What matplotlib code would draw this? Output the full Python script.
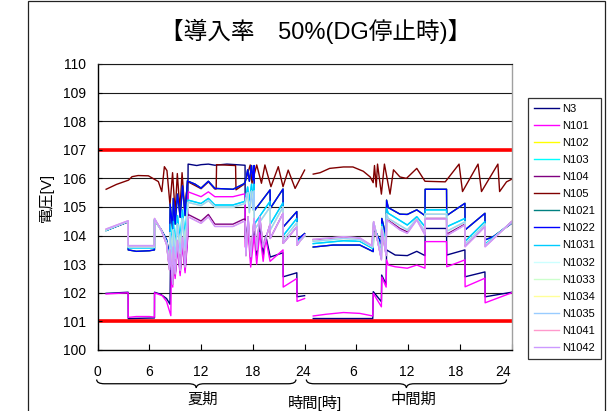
import numpy as np
import matplotlib
matplotlib.use("Agg")
import matplotlib.pyplot as plt
import matplotlib.transforms as mtransforms
from matplotlib.patches import Rectangle, PathPatch
from matplotlib.path import Path

plt.rcParams['font.family'] = ['Liberation Sans', 'Noto Sans CJK JP']

# ---------------------------------------------------------------------------
# Data: (hour, voltage) pairs. Summer runs 1..24 h, the mid season 25..48 h.
# ---------------------------------------------------------------------------
SERIES = ["N3", "N101", "N102", "N103", "N104", "N105", "N1021", "N1022",
          "N1031", "N1032", "N1033", "N1034", "N1035", "N1041", "N1042"]
COLORS = ["#000080", "#FF00FF", "#FFFF00", "#00FFFF", "#800080", "#800000",
          "#008080", "#0000FF", "#00CCFF", "#CCFFFF", "#CCFFCC", "#FFFF99",
          "#99CCFF", "#FF99CC", "#CC99FF"]

N105_SUMMER = [(1, 105.62), (2.2, 105.79), (3.6, 105.94), (4.0, 106.06), (4.7, 106.10),
               (5.9, 106.09), (7.05, 105.89), (7.45, 105.54), (7.75, 106.41), (8.05, 106.27),
               (8.4, 105.07), (8.7, 106.20), (9.0, 104.78), (9.25, 106.17), (9.55, 104.90),
               (9.8, 106.20), (10.1, 104.95), (10.45, 105.85), (10.5, 105.88), (12.0, 105.64),
               (12.85, 105.88), (13.6, 105.63), (13.75, 105.63), (13.8, 106.48), (16.0, 106.45),
               (16.05, 105.60), (17.0, 105.80), (17.3, 106.06), (17.7, 106.47), (17.9, 105.83),
               (18.45, 106.47), (19.0, 105.83), (19.4, 106.47), (20.1, 105.71), (20.95, 106.41),
               (21.5, 105.71), (22.1, 106.29), (22.9, 105.65), (24.0, 106.29)]
N105_MID = [(25, 106.15), (25.8, 106.20), (26.9, 106.35), (28.5, 106.40), (29.6, 106.40),
            (30.8, 106.25), (31.6, 106.05), (31.95, 105.85), (32.1, 106.45), (32.3, 105.70),
            (32.45, 106.50), (32.9, 105.45), (33.25, 106.50), (33.9, 105.45), (34.3, 106.30),
            (35.05, 106.05), (35.8, 106.00), (37.0, 106.35), (37.95, 105.90), (40.3, 105.88),
            (41.9, 106.50), (42.3, 105.54), (44.1, 106.50), (44.5, 105.54), (46.4, 106.50),
            (46.6, 105.54), (47.4, 105.88), (48, 105.97)]

N3_SUMMER = [(1, 101.98), (3.55, 102.02), (3.56, 101.10), (6.6, 101.12), (6.61, 102.02),
             (7.3, 101.95), (8.0, 101.80), (8.4, 101.60), (8.45, 102.90), (8.72, 102.40),
             (8.78, 103.40), (9.0, 102.60), (9.27, 103.70), (9.58, 102.70), (9.85, 103.80),
             (10.15, 102.80), (10.45, 104.00), (10.5, 106.50), (11.5, 106.45), (12.0, 106.48),
             (12.85, 106.50), (13.6, 106.46), (15.0, 106.50), (17.1, 106.46), (17.12, 103.90),
             (17.45, 104.40), (17.75, 103.20), (18.15, 104.30), (18.45, 103.30), (18.8, 104.40),
             (19.2, 103.30), (19.5, 104.00), (20.02, 103.25), (21.5, 103.40), (21.52, 102.56),
             (23.1, 102.70), (23.12, 101.86), (24, 101.90)]
N3_MID = [(25, 101.10), (31.9, 101.10), (31.96, 102.04), (32.9, 101.69), (32.93, 102.62),
          (33.45, 102.30), (33.5, 103.50), (34.5, 103.32), (35.9, 103.30), (37.0, 103.45),
          (37.95, 103.30), (37.97, 104.25), (40.45, 104.25), (40.47, 103.32), (42.58, 103.50),
          (42.6, 102.56), (44.9, 102.73), (44.92, 101.86), (48, 102.02)]

N101_SUMMER = [(1, 101.96), (3.55, 102.00), (3.56, 101.14), (4.5, 101.17), (6.0, 101.17),
               (6.6, 101.15), (6.61, 102.00), (7.5, 101.90), (8.0, 101.70), (8.5, 101.20),
               (8.55, 102.80), (8.72, 102.20), (8.78, 103.30), (9.0, 102.50), (9.27, 103.60),
               (9.58, 102.60), (9.85, 103.70), (10.15, 102.70), (10.45, 103.90), (10.5, 105.53),
               (12.0, 105.36), (12.85, 105.53), (13.6, 105.36), (15.7, 105.36), (16.9, 105.45),
               (17.1, 105.45), (17.12, 103.60), (17.45, 104.20), (17.75, 102.90), (18.15, 104.00),
               (18.45, 103.00), (18.8, 104.10), (19.2, 103.10), (19.5, 103.90), (20.0, 103.10),
               (21.5, 103.50), (21.52, 102.20), (23.1, 102.50), (23.12, 101.70), (24, 101.80)]
N101_MID = [(25, 101.19), (26.5, 101.25), (28.5, 101.31), (30.4, 101.28), (31.9, 101.19),
            (31.96, 101.98), (32.9, 101.51), (32.95, 102.55), (33.45, 102.20), (33.5, 103.15),
            (33.7, 102.97), (34.5, 102.91), (35.9, 102.86), (37.0, 102.97), (37.95, 102.86),
            (37.97, 103.79), (40.45, 103.79), (40.47, 102.91), (42.58, 103.15), (42.6, 102.21),
            (44.9, 102.51), (44.92, 101.65), (48, 102.00)]

BLUE_SUMMER = [(1, 104.18), (3.55, 104.48), (3.56, 103.50), (4.5, 103.45), (6.0, 103.47),
               (6.6, 103.50), (6.61, 104.55), (7.4, 104.20), (8.0, 103.86), (8.35, 103.30),
               (8.42, 105.10), (8.72, 104.20), (8.78, 105.30), (9.0, 104.40), (9.27, 105.45),
               (9.58, 104.64), (9.85, 105.74), (10.15, 104.70), (10.42, 105.92), (10.5, 105.90),
               (11.3, 105.80), (12.0, 105.66), (12.85, 105.90), (13.6, 105.65), (15.7, 105.62),
               (16.9, 105.80), (17.1, 105.85), (17.4, 106.30), (17.6, 105.90), (17.85, 106.45),
               (18.0, 105.95), (18.15, 106.45), (18.17, 104.87), (20.0, 105.60), (20.02, 104.95),
               (21.5, 105.63), (21.52, 104.30), (23.1, 104.84), (23.12, 103.85), (24, 104.07)]
BLUE_MID = [(25, 103.60), (27.3, 103.67), (30.4, 103.67), (31.95, 103.44), (32.0, 104.30),
            (32.9, 103.70), (32.95, 104.60), (33.45, 103.95), (33.5, 105.24), (33.7, 104.98),
            (35.05, 104.75), (35.9, 104.74), (37.0, 104.90), (37.95, 104.70), (37.97, 105.62),
            (40.45, 105.62), (40.47, 104.70), (42.58, 105.13), (42.6, 104.20), (44.9, 104.78),
            (44.92, 103.85), (45.9, 103.97), (48, 104.43)]

CYAN_SUMMER = [(1, 104.18), (3.55, 104.50), (3.56, 103.57), (6.6, 103.57), (6.61, 104.55),
               (7.4, 104.18), (8.0, 103.80), (8.35, 103.10), (8.42, 104.40), (8.72, 103.40),
               (8.78, 104.50), (9.0, 103.60), (9.27, 104.70), (9.58, 103.80), (9.85, 104.90),
               (10.15, 103.90), (10.42, 105.10), (10.5, 105.24), (12.0, 105.12), (12.85, 105.30),
               (13.6, 105.07), (15.7, 105.07), (16.9, 105.18), (17.1, 105.20), (17.4, 105.70),
               (17.6, 105.20), (17.85, 105.80), (18.0, 105.30), (18.15, 105.80), (18.17, 104.40),
               (20.0, 105.20), (20.02, 104.40), (21.5, 105.15), (21.52, 104.00), (23.1, 104.60),
               (23.12, 103.75), (24, 104.00)]
CYAN_MID = [(25, 103.72), (28.5, 103.82), (30.4, 103.80), (31.9, 103.55), (32.0, 104.45),
            (32.9, 103.40), (32.95, 104.40), (33.45, 103.60), (33.5, 104.95), (33.7, 104.78),
            (35.9, 104.37), (37.0, 104.66), (37.95, 104.31), (37.97, 104.90), (40.45, 104.90),
            (40.47, 104.31), (42.58, 104.60), (42.6, 103.80), (44.9, 104.49), (44.92, 103.70),
            (48, 104.47)]

LIGHT_SUMMER = [(1, 104.20), (3.55, 104.50), (3.56, 103.60), (6.6, 103.60), (6.61, 104.57),
                (7.4, 104.18), (8.0, 103.75), (8.35, 102.95), (8.42, 104.10), (8.72, 103.00),
                (8.78, 104.20), (9.0, 103.20), (9.27, 104.40), (9.58, 103.40), (9.85, 104.60),
                (10.15, 103.50), (10.42, 104.80), (10.5, 105.16), (12.0, 105.05), (12.85, 105.22),
                (13.6, 105.00), (15.7, 105.00), (16.9, 105.10), (17.1, 105.12), (17.4, 105.50),
                (17.6, 104.80), (17.85, 105.55), (18.0, 104.90), (18.15, 105.55), (18.17, 104.20),
                (20.0, 105.00), (20.02, 104.20), (21.5, 105.00), (21.52, 103.85), (23.1, 104.45),
                (23.12, 103.70), (24, 103.98)]
LIGHT_MID = [(25, 103.80), (28.5, 103.90), (30.4, 103.86), (31.9, 103.60), (32.0, 104.48),
             (32.9, 103.25), (32.95, 104.30), (33.45, 103.45), (33.5, 104.75), (33.7, 104.60),
             (35.9, 104.20), (37.0, 104.58), (37.95, 104.15), (37.97, 104.75), (40.45, 104.75),
             (40.47, 104.15), (42.58, 104.48), (42.6, 103.70), (44.9, 104.40), (44.92, 103.65),
             (48, 104.47)]

PURPLE_SUMMER = [(1, 104.20), (3.55, 104.50), (3.56, 103.62), (6.6, 103.62), (6.61, 104.58),
                 (7.4, 104.18), (8.0, 103.70), (8.35, 102.80), (8.42, 103.50), (8.72, 102.30),
                 (8.78, 103.60), (9.0, 102.66), (9.27, 103.83), (9.58, 102.78), (9.85, 103.94),
                 (10.15, 102.90), (10.42, 104.17), (10.5, 104.74), (12.0, 104.51), (12.85, 104.74),
                 (13.6, 104.40), (15.7, 104.40), (16.9, 104.57), (17.1, 104.58), (17.2, 103.30),
                 (17.45, 104.66), (17.75, 103.26), (18.15, 104.60), (18.45, 103.50), (18.8, 104.66),
                 (19.2, 103.60), (20.0, 104.40), (20.02, 103.90), (21.5, 104.78), (21.52, 103.73),
                 (23.1, 104.31), (23.12, 103.67), (24, 104.02)]
PURPLE_MID = [(25, 103.85), (28.5, 103.94), (30.4, 103.90), (31.8, 103.63), (32.0, 104.47),
              (32.9, 103.18), (32.95, 104.22), (33.45, 103.32), (33.5, 104.58), (35.05, 104.25),
              (35.9, 104.13), (37.0, 104.60), (37.95, 104.07), (37.97, 104.60), (40.45, 104.60),
              (40.47, 104.05), (42.58, 104.40), (42.6, 103.64), (44.9, 104.34), (44.92, 103.64),
              (48, 104.49)]

LAVENDER_SUMMER = [(1, 104.23), (3.55, 104.52), (3.56, 103.65), (6.6, 103.65), (6.61, 104.60),
                   (7.4, 104.18), (8.0, 103.70), (8.35, 102.80), (8.42, 103.50), (8.72, 102.30),
                   (8.78, 103.60), (9.0, 102.66), (9.27, 103.83), (9.58, 102.78), (9.85, 103.94),
                   (10.15, 102.90), (10.42, 104.17), (10.5, 104.66), (12.0, 104.43), (12.85, 104.66),
                   (13.6, 104.32), (15.7, 104.32), (16.9, 104.49), (17.1, 104.50), (17.2, 103.30),
                   (17.45, 104.66), (17.75, 103.26), (18.15, 104.60), (18.45, 103.50), (18.8, 104.66),
                   (19.2, 103.60), (20.0, 104.40), (20.02, 103.90), (21.5, 104.78), (21.52, 103.73),
                   (23.1, 104.31), (23.12, 103.67), (24, 104.02)]
LAVENDER_MID = [(25, 103.87), (28.5, 103.96), (30.4, 103.92), (31.8, 103.65), (32.0, 104.49),
                (32.9, 103.15), (32.95, 104.20), (33.45, 103.30), (33.5, 104.55), (35.05, 104.20),
                (35.9, 104.08), (37.0, 104.55), (37.95, 104.02), (37.97, 104.58), (40.45, 104.58),
                (40.47, 104.00), (42.58, 104.37), (42.6, 103.61), (44.9, 104.31), (44.92, 103.61),
                (48, 104.49)]

# which recorded profile each node follows
SERIES_DATA = {
    "N3": (N3_SUMMER, N3_MID),
    "N101": (N101_SUMMER, N101_MID),
    "N102": (BLUE_SUMMER, BLUE_MID),
    "N103": (CYAN_SUMMER, CYAN_MID),
    "N104": (PURPLE_SUMMER, PURPLE_MID),
    "N105": (N105_SUMMER, N105_MID),
    "N1021": (BLUE_SUMMER, BLUE_MID),
    "N1022": (BLUE_SUMMER, BLUE_MID),
    "N1031": (CYAN_SUMMER, CYAN_MID),
    "N1032": (LIGHT_SUMMER, LIGHT_MID),
    "N1033": (LIGHT_SUMMER, LIGHT_MID),
    "N1034": (LIGHT_SUMMER, LIGHT_MID),
    "N1035": (LIGHT_SUMMER, LIGHT_MID),
    "N1041": (LAVENDER_SUMMER, LAVENDER_MID),
    "N1042": (LAVENDER_SUMMER, LAVENDER_MID),
}

LIMITS = [101, 107]           # allowable voltage band
Y_TICKS = list(range(100, 111))
X_TICKS = list(range(0, 49, 6))
X_TICK_LABELS = ["0", "6", "12", "18", "24", "6", "12", "18", "24"]
TITLE = "【導入率　50%(DG停止時)】"
Y_LABEL = "電圧[V]"
X_LABEL = "時間[時]"
SEASONS = ["夏期", "中間期"]

# ---------------------------------------------------------------------------
W, H = 608, 411
fig = plt.figure(figsize=(W / 100, H / 100), dpi=100)
fig.patch.set_facecolor("white")

# outer chart frame
fig.add_artist(Rectangle((28 / W, -0.05), (605 - 28) / W, 1.05 - 1.5 / H,
                         transform=fig.transFigure, fill=False, lw=0.9,
                         edgecolor="#222222"))

ax = fig.add_axes([97.5 / W, 61 / H, 414.2 / W, 286 / H])
ax.set_xlim(0, 48)
ax.set_ylim(100, 110)

for v in Y_TICKS[1:]:
    ax.axhline(v, color="#1a1a1a", lw=0.8, zorder=1)
for v in LIMITS:
    ax.axhline(v, color="#FF0000", lw=2.6, zorder=1.5)

for name, color in zip(SERIES, COLORS):
    summer, mid = SERIES_DATA[name]
    t = [p[0] for p in summer] + [np.nan] + [p[0] for p in mid]
    v = [p[1] for p in summer] + [np.nan] + [p[1] for p in mid]
    ax.plot(t, v, color=color, lw=1.0, label=name, zorder=2)

ax.set_yticks(Y_TICKS)
ax.set_yticklabels([str(v) for v in Y_TICKS], fontsize=10)
ax.set_xticks(X_TICKS)
ax.tick_params(axis="x", direction="in", length=4, width=0.8, labelbottom=False)
ax.tick_params(axis="y", direction="in", length=3, width=0.8, pad=8)
for s in ("left", "bottom"):
    ax.spines[s].set_color("black")
    ax.spines[s].set_linewidth(1.0)
ax.spines["top"].set_color("#1a1a1a")
ax.spines["top"].set_linewidth(0.8)
ax.spines["right"].set_color("#a0a0a0")
ax.spines["right"].set_linewidth(1.0)

# hour labels under the axis, one run per season
lab_tr = mtransforms.blended_transform_factory(ax.transData, fig.transFigure)
label_shift = [0, 0, 0, 0, -0.2, -0.35, -0.2, -0.5, -1.0]
for x, s, dx in zip(X_TICKS, X_TICK_LABELS, label_shift):
    ax.text(x + dx, 1 - 372 / H, s, transform=lab_tr, ha="center", va="center",
            fontsize=10, clip_on=False)


def brace(x0, x1, y_top, y_bot, q=0.9):
    ym = (y_top + y_bot) / 2
    xm = (x0 + x1) / 2
    verts = [(x0, y_top), (x0, ym), (x0 + q, ym), (xm - q, ym), (xm, ym), (xm, y_bot),
             (xm, ym), (xm + q, ym), (x1 - q, ym), (x1, ym), (x1, y_top)]
    codes = [Path.MOVETO, Path.CURVE3, Path.CURVE3, Path.LINETO, Path.CURVE3, Path.CURVE3,
             Path.CURVE3, Path.CURVE3, Path.LINETO, Path.CURVE3, Path.CURVE3]
    ax.add_patch(PathPatch(Path(verts, codes), transform=lab_tr, fill=False,
                           lw=0.9, edgecolor="black", clip_on=False))


brace(-0.1, 23.0, 1 - 379.5 / H, 1 - 388 / H)
brace(24.2, 47.4, 1 - 379.5 / H, 1 - 388 / H)

ax.text(12.2, 1 - 400 / H, SEASONS[0], transform=lab_tr, ha="center", va="center",
        fontsize=11, clip_on=False)
ax.text(36.6, 1 - 400 / H, SEASONS[1], transform=lab_tr, ha="center", va="center",
        fontsize=11, clip_on=False)
ax.text(25.2, 1 - 403 / H, X_LABEL, transform=lab_tr, ha="center", va="center",
        fontsize=11, clip_on=False)

fig.text(46 / W, 1 - 197 / H, Y_LABEL, rotation=90, ha="center", va="center", fontsize=11)
fig.text(316 / W, 1 - 31 / H, TITLE, ha="center", va="center", fontsize=17)

leg = ax.legend(loc="upper left", bbox_to_anchor=(528 / W, 1 - 98 / H),
                bbox_transform=fig.transFigure, fontsize=8, frameon=True,
                fancybox=False, borderaxespad=0, borderpad=0.5,
                handlelength=2.3, handletextpad=0.3, labelspacing=0.64)
leg.get_frame().set_edgecolor("black")
leg.get_frame().set_linewidth(0.9)

fig.savefig("out.png", dpi=100)
